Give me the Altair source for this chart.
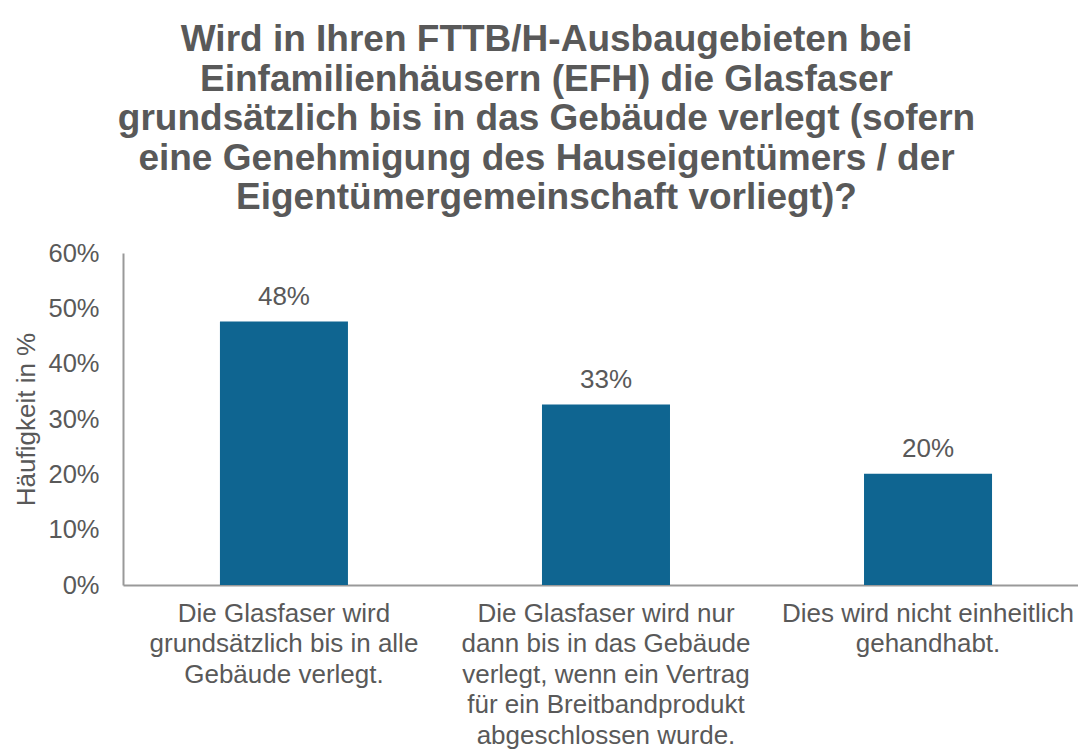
import altair as alt
import pandas as pd

categories = [
    ["Die Glasfaser wird", "grundsätzlich bis in alle", "Gebäude verlegt."],
    ["Die Glasfaser wird nur", "dann bis in das Gebäude", "verlegt, wenn ein Vertrag",
     "für ein Breitbandprodukt", "abgeschlossen wurde."],
    ["Dies wird nicht einheitlich", "gehandhabt."],
]
values = [0.476, 0.326, 0.201]
title_lines = [
    "Wird in Ihren FTTB/H-Ausbaugebieten bei",
    "Einfamilienhäusern (EFH) die Glasfaser",
    "grundsätzlich bis in das Gebäude verlegt (sofern",
    "eine Genehmigung des Hauseigentümers / der",
    "Eigentümergemeinschaft vorliegt)?",
]
y_title = "Häufigkeit in %"

cat_labels = ["\n".join(c) for c in categories]
df = pd.DataFrame({"cat": cat_labels, "val": values})

FONT = "Liberation Sans"
GRAY = "#595959"
BAR = "#0f6591"

x = alt.X(
    "cat:N",
    sort=cat_labels,
    title=None,
    scale=alt.Scale(paddingInner=0.6025, paddingOuter=0.284, align=0.53),
    axis=alt.Axis(
        labelAngle=0,
        labelExpr="split(datum.label, '\\n')",
        labelFont=FONT,
        labelFontSize=26,
        labelColor=GRAY,
        labelLineHeight=30.5,
        labelLimit=0,
        labelPadding=15,
        ticks=False,
        domainColor="#999999",
        domainWidth=2,
        labelOverlap=False,
    ),
)
y = alt.Y(
    "val:Q",
    title=y_title,
    scale=alt.Scale(domain=[0, 0.6], nice=False),
    axis=alt.Axis(
        values=[0, 0.1, 0.2, 0.3, 0.4, 0.5, 0.6],
        format=".0%",
        grid=False,
        ticks=False,
        labelFont=FONT,
        labelFontSize=25.5,
        labelColor=GRAY,
        labelPadding=24,
        titleFont=FONT,
        titleFontSize=26,
        titleFontWeight="normal",
        titleColor=GRAY,
        titlePadding=8,
        domainColor="#999999",
        domainWidth=2,
    ),
)

base = alt.Chart(df)
bars = base.mark_bar(color=BAR).encode(x=x, y=y)
labels = base.mark_text(
    font=FONT, fontSize=26, color=GRAY, baseline="alphabetic", dy=-17
).encode(x=x, y=y, text=alt.Text("val:Q", format=".0%"))

chart = (
    (bars + labels)
    .properties(
        width=955,
        height=332,
        padding={"left": 115, "top": 245, "right": 0, "bottom": 166},
        autosize=alt.AutoSizeParams(type="none"),
        title=alt.TitleParams(
            text=title_lines,
            font=FONT,
            fontSize=37,
            fontWeight="bold",
            color=GRAY,
            lineHeight=39.5,
            anchor="middle",
            frame="group",
            dx=-54,
            offset=24,
        ),
    )
    .configure_view(stroke=None)
)

chart.save("out.html", embed_options={"renderer": "svg", "actions": False})
